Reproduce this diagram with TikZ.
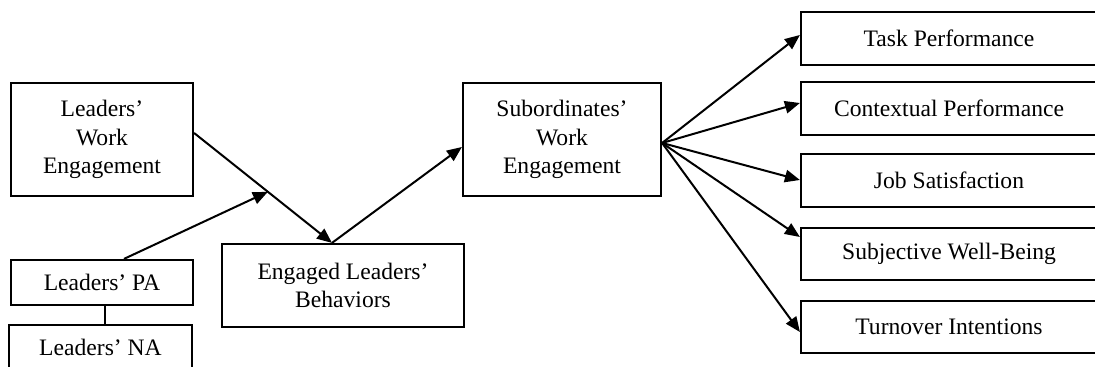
\documentclass[tikz,border=0pt]{standalone}
\usepackage{fontspec}
\setmainfont{Liberation Serif}
\usetikzlibrary{arrows.meta,calc}

\begin{document}
\begin{tikzpicture}[x=0.5pt,y=-0.5pt,
  box/.style={draw,line width=1.1pt,align=center,inner sep=0pt,
    font=\fontsize{11.8}{14.3}\selectfont},
  link/.style={line width=1pt,-{Triangle[length=7.5pt,width=6.2pt]}},
  tie/.style={line width=0.6pt}]
  \useasboundingbox (0,0) rectangle (1095,367);
  \clip (0,0) rectangle (1095,367);

  % left column
  \node[box,minimum width=91pt,minimum height=56.5pt] (lwe) at (102,139.5)
    {Leaders'\\Work\\Engagement};
  \node[box,minimum width=91pt,minimum height=22.5pt] (pa) at (102,282.5)
    {Leaders' PA};
  \node[box,minimum width=91.5pt,minimum height=22.5pt] (na) at (100.5,347.5)
    {Leaders' NA};

  % mediator and subordinate engagement
  \node[box,minimum width=121pt,minimum height=41.5pt] (eng) at (343,285.5)
    {Engaged Leaders'\\Behaviors};
  \node[box,minimum width=99pt,minimum height=56.5pt] (sub) at (562,139.5)
    {Subordinates'\\Work\\Engagement};

  % outcomes
  \node[box,minimum width=148pt,minimum height=26.5pt] (task) at (949,38.5) {Task Performance};
  \node[box,minimum width=148pt,minimum height=26.5pt] (ctx)  at (949,108.5) {Contextual Performance};
  \node[box,minimum width=148pt,minimum height=26.5pt] (job)  at (949,180.5) {Job Satisfaction};
  \node[box,minimum width=148pt,minimum height=26pt]   (swb)  at (949,254) {Subjective Well-Being};
  \node[box,minimum width=148pt,minimum height=26pt]   (turn) at (949,327) {Turnover Intentions};

  % main path
  \coordinate (lweout) at (lwe.east |- 0,133);
  \coordinate (engin) at (eng.north -| 332,0);
  \coordinate (mod) at ($(lweout)!0.535!(engin)$);
  \draw[link] (lweout) -- (engin);
  \draw[link] (pa.north -| 124,0) -- (mod);
  \draw[link] (engin) -- (sub.west |- 0,147);
  \draw[tie] (pa.south -| 105,0) -- (na.north -| 105,0);

  % fan of outcomes
  \coordinate (fan) at (sub.east |- 0,143);
  \draw[link] (fan) -- (task.west |- 0,35);
  \draw[link] (fan) -- (ctx.west |- 0,103);
  \draw[link] (fan) -- (job.west |- 0,180);
  \draw[link] (fan) -- (swb.west |- 0,237);
  \draw[link] (fan) -- (turn.west |- 0,332);
\end{tikzpicture}
\end{document}
